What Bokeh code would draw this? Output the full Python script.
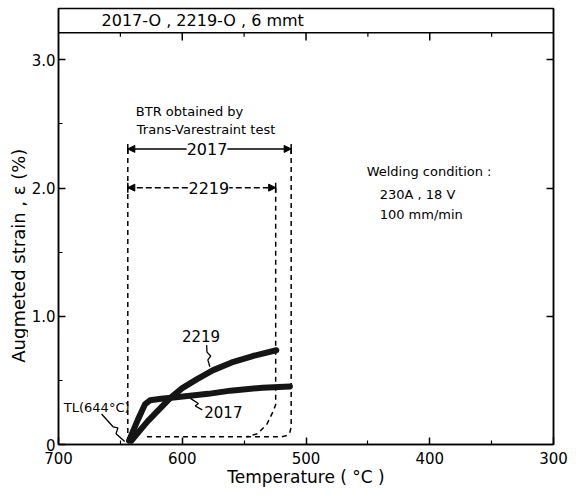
import math
from bokeh.plotting import figure
from bokeh.layouts import row
from bokeh.models import (Range1d, FixedTicker, LinearAxis, Label, Arrow,
                          NormalHead, TeeHead, Span)
from bokeh.embed import file_html
from bokeh.resources import INLINE

FONT = "DejaVu Sans"

# ---------------- data ----------------
x_major = [700, 600, 500, 400, 300]
x_minor = [650, 550, 450, 350]
y_major = [0, 1, 2, 3]
y_minor = [0.5, 1.5, 2.5]
y_tick_labels = {0: "0", 1: "1.0", 2: "2.0", 3: "3.0"}
right_ticks = [1, 2, 3]
top_major = [600, 500, 400]
top_minor = [650, 550, 450, 350]

# augmented strain curves (temperature degC, strain %)
temp_2219 = [641, 635, 628, 620, 610, 600, 588, 575, 560, 543, 524]
strain_2219 = [0.03, 0.10, 0.18, 0.26, 0.36, 0.44, 0.51, 0.58, 0.64, 0.69, 0.735]
temp_2017 = [643, 636, 630, 626, 617, 605, 579, 561, 535, 513]
strain_2017 = [0.03, 0.19, 0.315, 0.345, 0.357, 0.368, 0.395, 0.42, 0.443, 0.453]

# BTR (brittle temperature range) from Trans-Varestraint test
liquidus = 644
btr_end_2017 = 512
btr_end_2219 = 524.5
btr_level_2017 = 2.305
btr_level_2219 = 2.003

# dashed boundary paths
dash_2017_t = [512, 512, 513, 515.5, 520, 630]
dash_2017_e = [btr_level_2017, 0.14, 0.095, 0.07, 0.06, 0.06]
dash_2219_t = [524.5, 524.5, 526.5, 531.5, 539, 548]
dash_2219_e = [btr_level_2219, 0.31, 0.26, 0.16, 0.085, 0.06]

# leader lines of labels
lead_2219_t = [580.3, 580.0, 577.0, 579.3, 577.7]
lead_2219_e = [0.775, 0.72, 0.69, 0.66, 0.606]
lead_2017_t = [583.8, 589.5, 587.0, 593.4]
lead_2017_e = [0.27, 0.30, 0.32, 0.36]
lead_tl_t = [665.2, 655.9, 652.0, 653.5, 646.5]
lead_tl_e = [0.238, 0.138, 0.13, 0.084, 0.023]

y_top = 3.40
divider = 3.21

H = 489
LABEL_W = 28

# ---------------- y-axis title strip ----------------
ylab = figure(width=LABEL_W, height=H, x_range=Range1d(0, LABEL_W),
              y_range=Range1d(0, H), output_backend="svg",
              toolbar_location=None, min_border=0)
ylab.axis.visible = False
ylab.grid.visible = False
ylab.outline_line_color = None
ylab.add_layout(Label(x=18, y=H - 274, text="Augmeted strain , ε  (%)",
                      text_font=FONT, text_font_size="18px",
                      text_align="center", text_baseline="middle",
                      text_color="black", angle=math.pi / 2))

# ---------------- main figure ----------------
p = figure(width=568 - LABEL_W, height=H, x_range=Range1d(700, 300),
           y_range=Range1d(0, y_top), output_backend="svg",
           toolbar_location=None, min_border_left=58 - LABEL_W,
           min_border_right=15, min_border_top=8, min_border_bottom=0)
p.grid.visible = False
p.outline_line_color = "black"
p.outline_line_width = 1.5
p.background_fill_color = "white"
p.border_fill_color = "white"

xa = p.xaxis[0]
xa.ticker = FixedTicker(ticks=x_major, minor_ticks=x_minor)
xa.axis_label = "Temperature ( °C )"
ya = p.yaxis[0]
ya.ticker = FixedTicker(ticks=y_major, minor_ticks=y_minor)
ya.major_label_overrides = y_tick_labels

for ax in (xa, ya):
    ax.major_tick_in = 7
    ax.major_tick_out = 0
    ax.minor_tick_in = 4
    ax.minor_tick_out = 0
    ax.axis_line_width = 1.5
    ax.major_tick_line_width = 1.5
    ax.minor_tick_line_width = 1.2
    ax.major_label_text_font = FONT
    ax.major_label_text_font_size = "15px"
    ax.major_label_text_color = "black"
    ax.axis_label_text_font = FONT
    ax.axis_label_text_font_size = "17px"
    ax.axis_label_text_font_style = "normal"
    ax.axis_label_text_color = "black"
xa.major_label_standoff = 7
xa.axis_label_standoff = 0
ya.major_label_standoff = 3

ra = LinearAxis(ticker=FixedTicker(ticks=[], minor_ticks=right_ticks),
                minor_tick_in=7, minor_tick_out=0, axis_line_width=1.5,
                minor_tick_line_width=1.5)
p.add_layout(ra, "right")

# title box divider and its ticks
p.add_layout(Span(location=divider, dimension="width", line_color="black",
                  line_width=1.5))
p.segment(x0=top_major, y0=[divider] * len(top_major), x1=top_major,
          y1=[divider - 0.06] * len(top_major), line_color="black",
          line_width=1.5)
p.segment(x0=top_minor, y0=[divider] * len(top_minor), x1=top_minor,
          y1=[divider - 0.03] * len(top_minor), line_color="black",
          line_width=1.2)
p.add_layout(Label(x=665.2, y=(divider + y_top) / 2,
                   text="2017-O ,  2219-O  ,  6 mmt", text_font=FONT,
                   text_font_size="16px", text_align="left",
                   text_baseline="middle", text_color="black"))

# dashed BTR boundaries
p.line([liquidus, liquidus], [btr_level_2017, 0], line_color="black",
       line_width=1.5, line_dash="5 4")
p.line(dash_2017_t, dash_2017_e, line_color="black", line_width=1.5,
       line_dash="5 4")
p.line(dash_2219_t, dash_2219_e, line_color="black", line_width=1.5,
       line_dash="5 4")

# strain curves
p.line(temp_2219, strain_2219, line_color="#151515", line_width=6,
       line_cap="round", line_join="round")
p.line(temp_2017, strain_2017, line_color="#151515", line_width=6,
       line_cap="round", line_join="round")

# leaders
for lt, le in ((lead_2219_t, lead_2219_e), (lead_2017_t, lead_2017_e),
               (lead_tl_t, lead_tl_e)):
    p.line(lt, le, line_color="black", line_width=1.3)

# BTR arrows
for end, lvl, dash in ((btr_end_2017, btr_level_2017, "solid"),
                       (btr_end_2219, btr_level_2219, "6 3")):
    p.add_layout(Arrow(x_start=liquidus, y_start=lvl, x_end=end, y_end=lvl,
                       start=NormalHead(size=7, fill_color="black",
                                        line_color="black"),
                       end=NormalHead(size=7, fill_color="black",
                                      line_color="black"),
                       line_width=1.5, line_dash=dash, line_color="black"))
    p.add_layout(Arrow(x_start=liquidus, y_start=lvl, x_end=end, y_end=lvl,
                       start=TeeHead(size=10, line_width=1.5),
                       end=TeeHead(size=10, line_width=1.5), line_alpha=0))

def lab(x, y, text, size="13px", align="left", bg=None):
    kw = dict(x=x, y=y, text=text, text_font=FONT, text_font_size=size,
              text_align=align, text_baseline="middle", text_color="black")
    if bg:
        kw["background_fill_color"] = bg
    p.add_layout(Label(**kw))

lab(580.0, btr_level_2017, "2017", "16px", "center", "white")
lab(578.5, btr_level_2219, "2219", "16px", "center", "white")
lab(637.5, 2.60, "BTR obtained by")
lab(636.7, 2.46, "Trans-Varestraint test")
lab(451.0, 2.13, "Welding condition :")
lab(440.5, 1.95, "230A , 18 V")
lab(440.5, 1.79, "100 mm/min")
lab(584.8, 0.845, "2219", "15px", "center")
lab(566.8, 0.25, "2017", "15px", "center")
lab(695.7, 0.29, "TL(644°C)", "13px", "left")

layout = row(ylab, p, spacing=0)
open("out.html", "w").write(file_html(layout, INLINE))
